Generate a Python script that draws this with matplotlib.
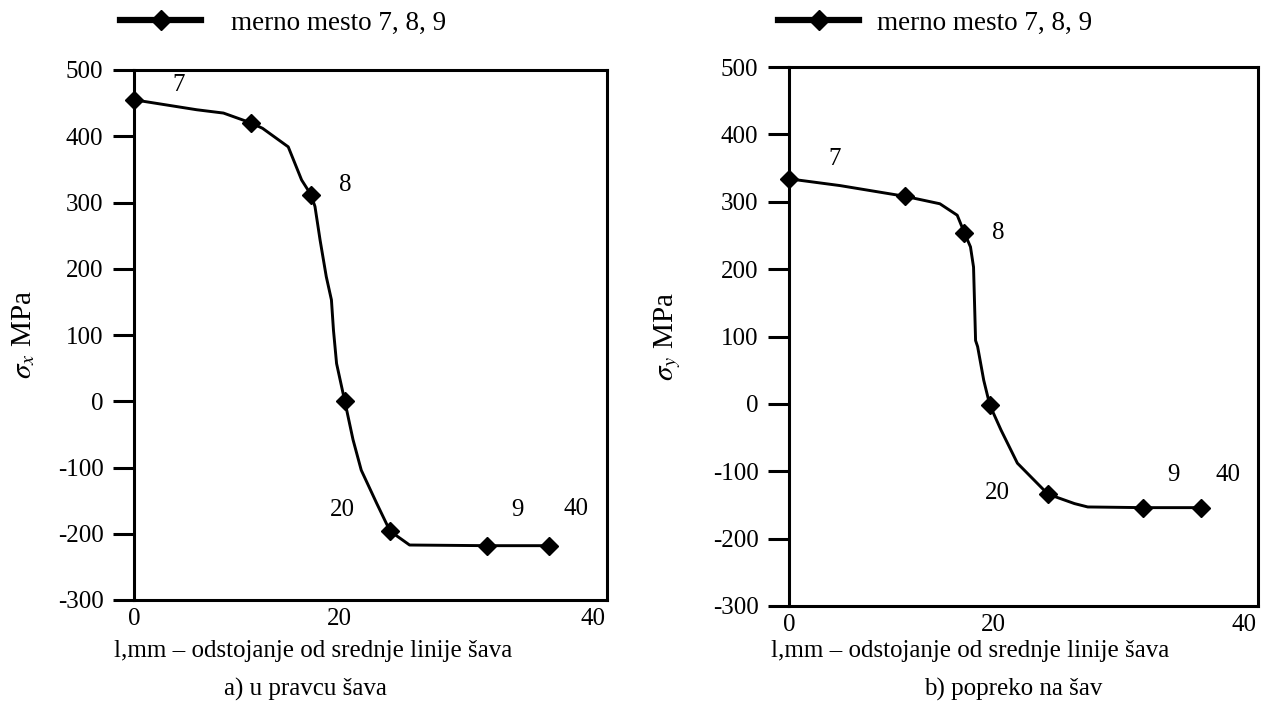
import matplotlib.pyplot as plt
from matplotlib.lines import Line2D

plt.rcParams['font.family'] = ['Liberation Serif', 'DejaVu Serif']
plt.rcParams['mathtext.fontset'] = 'stix'

# measured points (x in mm, stress in MPa)
a_x = [0, 11.4, 17.2, 20.5, 24.9, 34.3, 40.4]
a_y = [455, 420, 312, 0, -196, -218, -218]
b_x = [0, 11.4, 17.2, 19.7, 25.4, 34.7, 40.4]
b_y = [334, 308, 254, -2, -134, -154, -154]

# traced connecting curves
a_cx = [0, 6.1, 8.7, 11.4, 12.5, 15.0, 16.3, 17.2, 17.6, 18.1, 18.7, 19.2, 19.4,
        19.7, 20.5, 21.3, 22.1, 23.6, 24.9, 26.8, 34.3, 40.4]
a_cy = [455, 440, 435, 420, 412, 384, 334, 312, 294, 243, 188, 153, 107,
        57, 0, -58, -104, -154, -196, -217, -218, -218]
b_cx = [0, 5.0, 11.4, 14.8, 16.5, 17.2, 17.8, 18.1, 18.3, 18.5, 19.1, 19.7,
        20.8, 22.4, 25.4, 28.0, 29.3, 34.7, 40.4]
b_cy = [334, 324, 308, 297, 280, 254, 233, 203, 94, 85, 35, -2,
        -39, -88, -134, -148, -153, -154, -154]

labels = ['7', '8', '20', '9', '40']
a_lab_pos = [(4.3, 477), (20.5, 326), (20.3, -164), (37.3, -164), (43.0, -162)]
b_lab_pos = [(4.5, 364), (20.5, 253), (20.4, -133), (37.7, -106), (43.1, -106)]

yticks = [500, 400, 300, 200, 100, 0, -100, -200, -300]
xtick_pos = [0, 20, 44.6]
xtick_lab = ['0', '20', '40']

fs = 18

fig = plt.figure(figsize=(12.63, 7.11), dpi=100)
ax1 = fig.add_axes([134/1263, 1-600/711, (607-134)/1263, (600-70)/711])
ax2 = fig.add_axes([789/1263, 1-606/711, (1258-789)/1263, (606-67)/711])

panels = [
    (ax1, a_x, a_y, a_cx, a_cy, a_lab_pos, r'$\sigma_x$ MPa', -0.205, 120, 1.1, 313, 305, 'a) u pravcu šava'),
    (ax2, b_x, b_y, b_cx, b_cy, b_lab_pos, r'$\sigma_y$ MPa', -0.226, 778, 0.65, 970, 1013, 'b) popreko na šav'),
]

for ax, px, py, cx, cy, lpos, ylab, ylx, legx, tpad, xlx, subx, sub in panels:
    ax.plot(cx, cy, color='black', lw=2.1, clip_on=False)
    ax.plot(px, py, 'D', color='black', ms=9.5, clip_on=False)
    for t, (tx, ty) in zip(labels, lpos):
        ax.text(tx, ty, t, fontsize=fs, ha='center', va='center')
    ax.set_xlim(0, 46)
    ax.set_ylim(-300, 500)
    ax.set_yticks(yticks)
    ax.set_yticklabels([str(v) for v in yticks])
    ax.set_xticks(xtick_pos)
    ax.set_xticklabels(xtick_lab)
    ax.tick_params(axis='y', direction='out', length=15, width=2.2, labelsize=fs, pad=7)
    ax.tick_params(axis='x', length=0, labelsize=fs, pad=6)
    for s in ax.spines.values():
        s.set_linewidth(2.2)
    ax.set_ylabel(ylab, fontsize=21)
    ax.yaxis.set_label_coords(ylx, 0.5)
    fig.text(xlx/1263, 1-651/711, 'l,mm – odstojanje od srednje linije šava',
             fontsize=fs, ha='center', va='center')
    fig.text(subx/1263, 1-689/711, sub, fontsize=fs, ha='center', va='center')
    h = Line2D([], [], color='black', lw=4.5, marker='D', ms=10)
    ax.legend([h], ['merno mesto 7, 8, 9'], loc='center left',
              bbox_to_anchor=(legx/1263, 1-23/711), bbox_transform=fig.transFigure,
              frameon=False, fontsize=19.5, borderpad=0, borderaxespad=0,
              handlelength=3.0, handletextpad=tpad)

fig.savefig('out.png', dpi=100)
